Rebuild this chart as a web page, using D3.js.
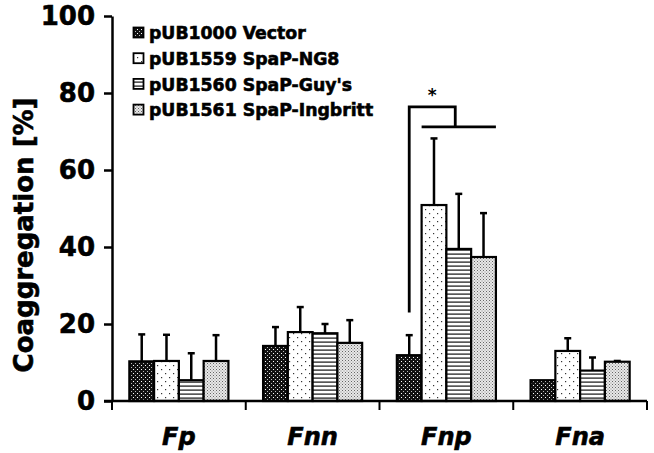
<!DOCTYPE html>
<html><head><meta charset="utf-8">
<script src="https://cdn.jsdelivr.net/npm/d3@7"></script>
<style>
html,body{margin:0;padding:0;background:#fff;}
svg{display:block;font-family:"DejaVu Sans",sans-serif;font-weight:bold;}
.heavy{stroke:#000;stroke-width:0.6px;paint-order:stroke;}
</style></head>
<body><svg id="chart" width="654" height="453"></svg>
<script>
const categories = ["Fp", "Fnn", "Fnp", "Fna"];
const series = ["pUB1000 Vector", "pUB1559 SpaP-NG8", "pUB1560 SpaP-Guy's", "pUB1561 SpaP-Ingbritt"];
// mean coaggregation [%] per category, one array per series
const vectorVals   = [10.3, 14.3, 11.9, 5.4];
const ng8Vals      = [10.4, 17.9, 50.9, 13.0];
const guysVals     = [5.4, 17.6, 39.5, 7.9];
const ingbrittVals = [10.4, 15.1, 37.4, 10.2];
// standard deviations (upper error bars)
const vectorErr   = [7.0, 4.9, 5.2, 0];
const ng8Err      = [6.8, 6.5, 17.3, 3.3];
const guysErr     = [7.0, 2.4, 14.3, 3.4];
const ingbrittErr = [6.7, 5.9, 11.4, 0.2];
const yTicks = [0, 20, 40, 60, 80, 100];
const yTitle = "Coaggregation [%]";
// significance bracket in Fnp: from Vector to the SpaP group
const sig = {cat: "Fnp", low: 23, top: 76.4, mid: 71.2, label: "*"};

const means = [vectorVals, ng8Vals, guysVals, ingbrittVals];
const errs = [vectorErr, ng8Err, guysErr, ingbrittErr];
const data = [];
categories.forEach((c, ci) => series.forEach((s, si) => data.push({cat: c, ser: s, si, v: means[si][ci], e: errs[si][ci]})));

const svg = d3.select("#chart");
svg.append("rect").attr("width", 654).attr("height", 453).attr("fill", "#fff");

// patterns
const defs = svg.append("defs");
function pat(id, w, h, bg) { const p = defs.append("pattern").attr("id", id).attr("patternUnits", "userSpaceOnUse").attr("width", w).attr("height", h); p.append("rect").attr("width", w).attr("height", h).attr("fill", bg); return p; }
let p0 = pat("p0", 4, 4, "#111");
p0.append("rect").attr("x", 1).attr("y", 1).attr("width", 1).attr("height", 1).attr("fill", "#fff");
p0.append("rect").attr("x", 3).attr("y", 3).attr("width", 1).attr("height", 1).attr("fill", "#bbb");
let p1 = pat("p1", 8, 8, "#fff");
p1.append("rect").attr("x", 1).attr("y", 1).attr("width", 1.2).attr("height", 1.2).attr("fill", "#333");
p1.append("rect").attr("x", 5).attr("y", 5).attr("width", 1.2).attr("height", 1.2).attr("fill", "#333");
let p2 = pat("p2", 4, 4, "#fff");
p2.append("rect").attr("x", 0).attr("y", 1.5).attr("width", 4).attr("height", 1.2).attr("fill", "#111");
let p3 = pat("p3", 3, 3, "#e8e8e8");
p3.append("rect").attr("x", 0).attr("y", 0).attr("width", 1).attr("height", 1).attr("fill", "#666");
p3.append("rect").attr("x", 1.5).attr("y", 1.5).attr("width", 1).attr("height", 1).attr("fill", "#888");
const fills = ["url(#p0)", "url(#p1)", "url(#p2)", "url(#p3)"];

const y = d3.scaleLinear().domain([0, 100]).range([401, 16]);
const x0 = d3.scaleBand().domain(categories).range([112, 647]);
const x1 = d3.scaleBand().domain(series).range([0, x0.bandwidth()]).paddingInner(0).paddingOuter(0.7);

// bars
svg.append("g").selectAll("rect").data(data).join("rect")
  .attr("x", d => x0(d.cat) + x1(d.ser))
  .attr("y", d => y(d.v))
  .attr("width", x1.bandwidth())
  .attr("height", d => y(0) - y(d.v))
  .attr("fill", d => fills[d.si])
  .attr("stroke", "#000").attr("stroke-width", 2.2);

// error bars
const eg = svg.append("g").attr("stroke", "#000").attr("stroke-width", 2.5);
data.filter(d => d.e > 0).forEach(d => {
  const cx = x0(d.cat) + x1(d.ser) + x1.bandwidth() / 2;
  eg.append("line").attr("x1", cx).attr("x2", cx).attr("y1", y(d.v)).attr("y2", y(d.v + d.e));
  eg.append("line").attr("x1", cx - 3.5).attr("x2", cx + 3.5).attr("y1", y(d.v + d.e)).attr("y2", y(d.v + d.e));
});

// y axis
const yAxis = svg.append("g").attr("transform", "translate(112,0)")
  .call(d3.axisLeft(y).tickValues(yTicks).tickSize(8).tickSizeOuter(0).tickPadding(9));
yAxis.select(".domain").attr("stroke-width", 2.5);
yAxis.selectAll(".tick line").attr("stroke-width", 2.5);
yAxis.selectAll("text").attr("font-size", 26).attr("font-family", "DejaVu Sans").attr("font-weight", "bold").attr("fill", "#000").attr("class", "heavy");

// x axis
const xg = svg.append("g").attr("stroke", "#000").attr("stroke-width", 2.5);
xg.append("line").attr("x1", 104).attr("x2", x0.range()[1]).attr("y1", y(0)).attr("y2", y(0));
const bounds = categories.map(c => x0(c)).concat([x0.range()[1]]);
xg.selectAll(".sep").data(bounds).join("line").attr("class", "sep")
  .attr("x1", d => d).attr("x2", d => d).attr("y1", y(0)).attr("y2", y(0) + 9).attr("stroke-width", 2);
svg.append("g").selectAll("text").data(categories).join("text")
  .attr("class", "heavy")
  .attr("x", d => x0(d) + x0.bandwidth() / 2).attr("y", 445)
  .attr("text-anchor", "middle").attr("font-size", 24).attr("font-style", "italic").text(d => d);

// y title
svg.append("text").attr("class", "heavy").attr("transform", "translate(33,235) rotate(-90)").attr("text-anchor", "middle")
  .attr("font-size", 26).text(yTitle);

// legend
const lg = svg.append("g");
series.forEach((s, i) => {
  const ly = 33 + i * 25.7;
  lg.append("rect").attr("x", 133.5).attr("y", ly - 5.5).attr("width", 10).attr("height", 10)
    .attr("fill", fills[i]).attr("stroke", "#000").attr("stroke-width", 1.8);
  lg.append("text").attr("class", "heavy").attr("x", 149).attr("y", ly).attr("dy", "0.36em").attr("font-size", 17.3).text(s);
});

// significance bracket
const bx = k => x0(sig.cat) + x1(series[k]);
const bw = x1.bandwidth();
const leftX = bx(0) + bw / 2, lowL = bx(1), lowR = bx(3) + bw, midX = (lowL + lowR) / 2 - 3.5;
const sg = svg.append("g").attr("stroke", "#000").attr("stroke-width", 2.8).attr("fill", "none");
sg.append("path").attr("d", `M${leftX},${y(sig.low)}V${y(sig.top)}H${midX}V${y(sig.mid)}`);
sg.append("line").attr("x1", lowL).attr("x2", lowR).attr("y1", y(sig.mid)).attr("y2", y(sig.mid));
svg.append("text").attr("x", (leftX + midX) / 2).attr("y", y(sig.top) - 6).attr("text-anchor", "middle")
  .attr("font-size", 17).text(sig.label);
</script></body></html>
